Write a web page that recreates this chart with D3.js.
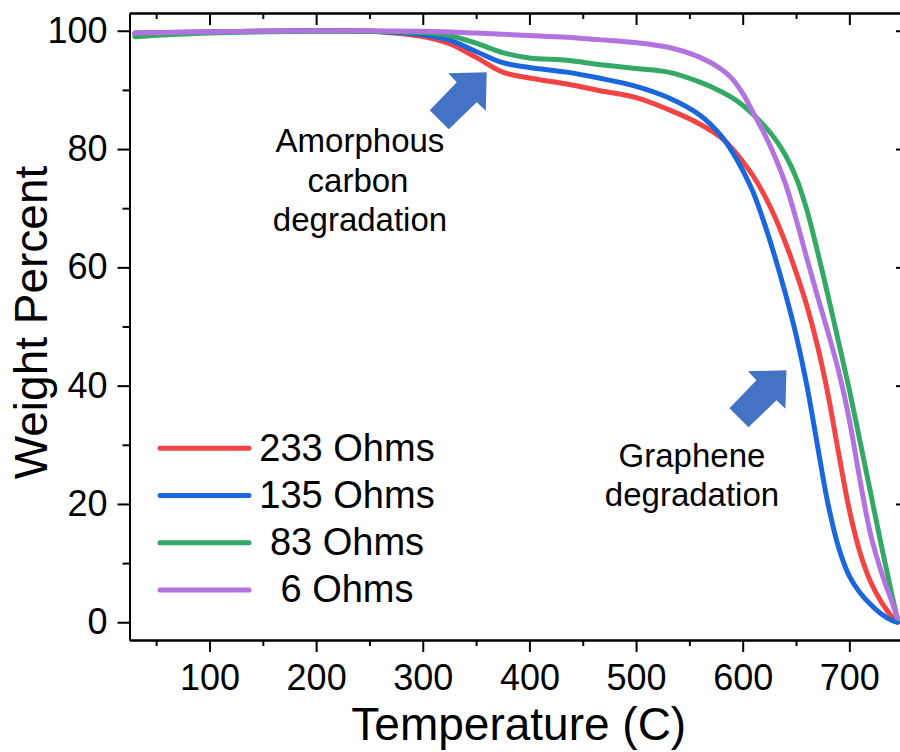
<!DOCTYPE html>
<html>
<head>
<meta charset="utf-8">
<script src="https://d3js.org/d3.v7.min.js"></script>
<style>
  body { margin: 0; background: #fff; }
  text { font-family: "Liberation Sans", Arial, sans-serif; fill: #000; }
</style>
</head>
<body>
<script type="text/javascript">
  // temperatures (C) shared by every TGA run
  var temps = [30, 100, 200, 250, 300, 325, 350, 375, 400, 435, 465, 500, 530, 560, 580, 590,
               600, 610, 620, 630, 640, 650, 660, 670, 680, 690, 700, 710, 720, 730, 740, 745];

  // weight percent
  var w233 = [99.5, 99.8, 100, 99.9, 99.0, 97.8, 95.5, 93.0, 92.0, 91.0, 89.9, 88.7, 86.7, 84.2, 81.9, 80.1,
              77.9, 75.4, 72.3, 68.6, 64.2, 59.2, 53.6, 46.8, 38.5, 28.5, 19.0, 11.8, 6.8, 3.4, 0.9, 0];
  var w135 = [99.6, 99.8, 100, 99.9, 99.3, 98.4, 96.5, 94.6, 93.8, 93.0, 92.0, 90.6, 88.7, 85.7, 82.2, 79.6,
              76.4, 72.6, 67.6, 61.9, 55.6, 48.6, 40.2, 30.0, 20.0, 12.6, 7.8, 5.0, 3.0, 1.4, 0.3, 0];
  var w83  = [99.0, 99.6, 99.9, 99.9, 99.7, 99.2, 97.9, 96.3, 95.4, 95.0, 94.3, 93.6, 93.0, 91.3, 89.7, 88.7,
              87.4, 85.8, 84.0, 81.8, 79.0, 75.2, 69.8, 62.8, 55.2, 47.3, 39.3, 30.6, 21.8, 13.0, 4.6, 0.6];
  var w6   = [99.6, 99.8, 100, 100, 99.9, 99.8, 99.6, 99.4, 99.2, 98.9, 98.5, 98.0, 97.2, 95.5, 93.5, 91.9,
              89.4, 86.1, 82.7, 78.8, 74.2, 68.2, 61.6, 55.2, 49.0, 42.4, 34.2, 24.0, 14.8, 8.5, 3.4, 0.8];

  var seriesNames = ["233 Ohms", "135 Ohms", "83 Ohms", "6 Ohms"];
  var seriesValues = [w233, w135, w83, w6];
  var seriesColors = ["#f24444", "#1a66dc", "#34a865", "#b273e0"];

  var xMajor = [100, 200, 300, 400, 500, 600, 700];
  var xMinor = [50, 150, 250, 350, 450, 550, 650, 750];
  var yMajor = [0, 20, 40, 60, 80, 100];
  var yMinor = [10, 30, 50, 70, 90];

  // arrows: [temperature, weight] of the arrow tip
  var arrowTips = [[360, 93.0], [641, 42.6]];

  var width = 900, height = 752;
  var plotLeft = 129.5, plotRight = 908, plotTop = 13, plotBottom = 640;

  var svg = d3.select("body").append("svg")
      .attr("width", width)
      .attr("height", height);

  var x = d3.scaleLinear().domain([25, 755]).range([plotLeft, plotRight]);
  var y = d3.scaleLinear().domain([-3, 103]).range([plotBottom, plotTop]);

  function styleAxis(g) {
    g.selectAll("path").attr("stroke", "#000").attr("stroke-width", 2);
    g.selectAll("line").attr("stroke", "#000").attr("stroke-width", 2);
    g.selectAll("text").style("font-size", "36px").attr("fill", "#000");
  }

  // bottom axis
  svg.append("g")
      .attr("transform", "translate(0," + plotBottom + ")")
      .call(d3.axisBottom(x).tickValues(xMinor).tickSize(6).tickSizeOuter(0).tickFormat(""))
      .call(styleAxis);
  svg.append("g")
      .attr("transform", "translate(0," + plotBottom + ")")
      .call(d3.axisBottom(x).tickValues(xMajor).tickSize(12).tickSizeOuter(0).tickPadding(12))
      .call(styleAxis);

  // top axis, ticks inside
  svg.append("g")
      .attr("transform", "translate(0," + plotTop + ")")
      .call(d3.axisBottom(x).tickValues(xMinor).tickSize(6).tickSizeOuter(0).tickFormat(""))
      .call(styleAxis);
  svg.append("g")
      .attr("transform", "translate(0," + plotTop + ")")
      .call(d3.axisBottom(x).tickValues(xMajor).tickSize(12).tickSizeOuter(0).tickFormat(""))
      .call(styleAxis);

  // left axis
  svg.append("g")
      .attr("transform", "translate(" + plotLeft + ",0)")
      .call(d3.axisLeft(y).tickValues(yMinor).tickSize(7).tickSizeOuter(0).tickFormat(""))
      .call(styleAxis);
  svg.append("g")
      .attr("transform", "translate(" + plotLeft + ",0)")
      .call(d3.axisLeft(y).tickValues(yMajor).tickSize(12).tickSizeOuter(0).tickPadding(10))
      .call(styleAxis);

  // right axis, ticks inside (mostly cut off by the frame)
  svg.append("g")
      .attr("transform", "translate(" + plotRight + ",0)")
      .call(d3.axisLeft(y).tickValues(yMinor).tickSize(7).tickSizeOuter(0).tickFormat(""))
      .call(styleAxis);
  svg.append("g")
      .attr("transform", "translate(" + plotRight + ",0)")
      .call(d3.axisLeft(y).tickValues(yMajor).tickSize(12).tickSizeOuter(0).tickFormat(""))
      .call(styleAxis);

  // axis titles
  svg.append("text")
      .attr("x", (plotLeft + plotRight) / 2)
      .attr("y", 740)
      .style("text-anchor", "middle")
      .style("font-size", "46px")
      .text("Temperature (C)");
  svg.append("text")
      .attr("transform", "translate(47," + ((plotTop + plotBottom) / 2 - 4) + ")rotate(-90)")
      .style("text-anchor", "middle")
      .style("font-size", "46px")
      .text("Weight Percent");

  // curves
  var line = d3.line()
      .x(function(d) { return x(d[0]); })
      .y(function(d) { return y(d[1]); })
      .curve(d3.curveCatmullRom.alpha(0.5));

  seriesValues.forEach(function(vals, i) {
    var pts = temps.map(function(t, j) { return [t, vals[j]]; });
    svg.append("path")
        .datum(pts)
        .attr("d", line)
        .attr("fill", "none")
        .attr("stroke", seriesColors[i])
        .attr("stroke-width", 5)
        .attr("stroke-linecap", "round")
        .attr("stroke-linejoin", "round");
  });

  // legend
  seriesNames.forEach(function(name, i) {
    var ly = 448.3 + i * 47.2;
    svg.append("line")
        .attr("x1", 160).attr("x2", 249)
        .attr("y1", ly).attr("y2", ly)
        .attr("stroke", seriesColors[i])
        .attr("stroke-width", 5)
        .attr("stroke-linecap", "round");
    svg.append("text")
        .attr("x", 347)
        .attr("y", ly + 12.5)
        .style("text-anchor", "middle")
        .style("font-size", "38px")
        .text(name);
  });

  // annotation arrows (block arrows at 45 degrees)
  var arrowShape = [[0, 0], [-1, 38.5], [-10, 30], [-38, 57], [-57, 38], [-30, 10], [-38.5, 1]];
  arrowTips.forEach(function(tip) {
    var tx = x(tip[0]), ty = y(tip[1]);
    svg.append("polygon")
        .attr("points", arrowShape.map(function(p) { return (tx + p[0]) + "," + (ty + p[1]); }).join(" "))
        .attr("fill", "#4472c4");
  });

  // annotation text
  var notes = [
    { x: 360, y: 152, t: "Amorphous" },
    { x: 358, y: 192, t: "carbon" },
    { x: 360, y: 231, t: "degradation" },
    { x: 692, y: 467, t: "Graphene" },
    { x: 692, y: 506, t: "degradation" }
  ];
  notes.forEach(function(n) {
    svg.append("text")
        .attr("x", n.x)
        .attr("y", n.y)
        .style("text-anchor", "middle")
        .style("font-size", "33px")
        .text(n.t);
  });
</script>
</body>
</html>
